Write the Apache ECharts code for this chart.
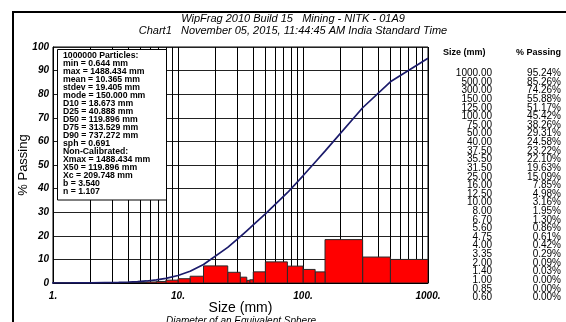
<!DOCTYPE html>
<html>
<head>
<meta charset="utf-8">
<script src="https://cdn.jsdelivr.net/npm/echarts@6/dist/echarts.min.js"></script>
<style>
  html, body { margin: 0; padding: 0; background: #fff; }
  #chart { width: 566px; height: 322px; }
</style>
</head>
<body>
<div id="chart"></div>
<script>
// sieve table (size in mm, cumulative % passing)
const sizes = [1000, 500, 300, 150, 125, 100, 75, 50, 40, 37.5, 35.5, 31.5, 25, 16, 12.5, 10, 8, 6.7, 5.6, 4.75, 4, 3.35, 2, 1.4, 1, 0.85, 0.6];
const passing = [95.24, 85.26, 74.26, 55.88, 51.17, 45.42, 38.26, 29.31, 24.58, 23.22, 22.10, 19.63, 15.09, 7.85, 4.98, 3.16, 1.95, 1.30, 0.86, 0.61, 0.42, 0.29, 0.09, 0.03, 0.00, 0.00, 0.00];

// histogram bins (% retained between sieves)
const binLow = [500, 300, 150, 125, 100, 75, 50, 40, 37.5, 35.5, 31.5, 25, 16, 12.5, 10, 8, 6.7, 5.6, 4.75, 4, 3.35, 2, 1.4, 1];
const binHigh = [1000, 500, 300, 150, 125, 100, 75, 50, 40, 37.5, 35.5, 31.5, 25, 16, 12.5, 10, 8, 6.7, 5.6, 4.75, 4, 3.35, 2, 1.4];
const retained = [9.98, 11.00, 18.38, 4.71, 5.75, 7.16, 8.95, 4.73, 1.36, 1.12, 2.47, 4.54, 7.24, 2.87, 1.82, 1.21, 0.65, 0.44, 0.25, 0.19, 0.13, 0.20, 0.06, 0.03];

// log grid lines between decades
const minorGrid = [2, 3, 4, 5, 6, 7, 8, 9, 20, 30, 40, 50, 60, 70, 80, 90, 200, 300, 400, 500, 600, 700, 800, 900];

const statLines = [
  '1000000 Particles:',
  'min = 0.644 mm',
  'max = 1488.434 mm',
  'mean = 10.365 mm',
  'stdev = 19.405 mm',
  'mode = 150.000 mm',
  'D10 = 18.673 mm',
  'D25 = 40.888 mm',
  'D50 = 119.896 mm',
  'D75 = 313.529 mm',
  'D90 = 737.272 mm',
  'sph = 0.691',
  'Non-Calibrated:',
  'Xmax = 1488.434 mm',
  'X50 = 119.896 mm',
  'Xc = 209.748 mm',
  'b = 3.540',
  'n = 1.107'
];

const titleLines = [
  'WipFrag 2010 Build 15   Mining - NITK - 01A9',
  'Chart1   November 05, 2015, 11:44:45 AM India Standard Time'
];

const FONT = '"Liberation Sans", Arial, sans-serif';

const chart = echarts.init(document.getElementById('chart'), null, { renderer: 'canvas' });

const option = {
  animation: false,
  backgroundColor: '#fff',
  textStyle: { fontFamily: FONT },
  grid: {
    left: 53, top: 47, width: 375, height: 236,
    show: true, borderColor: '#000', borderWidth: 1
  },
  xAxis: {
    type: 'log',
    logBase: 10,
    min: 1,
    max: 1000,
    axisLine: { show: true, lineStyle: { color: '#000', width: 1 } },
    axisTick: { show: false },
    axisLabel: {
      formatter: v => Math.round(v) + '.',
      fontStyle: 'italic', fontWeight: 'bold', fontSize: 10,
      color: '#000', margin: 8, fontFamily: FONT
    },
    splitLine: { show: true, lineStyle: { color: '#000', width: 1 } },
    name: 'Size (mm)',
    nameLocation: 'middle',
    nameMoveOverlap: false,
    nameGap: 18,
    nameTextStyle: { fontSize: 14, color: '#000', fontFamily: FONT }
  },
  yAxis: {
    type: 'value',
    min: 0,
    max: 100,
    interval: 10,
    axisLine: { show: true, lineStyle: { color: '#000', width: 1 } },
    axisTick: { show: false },
    axisLabel: {
      fontStyle: 'italic', fontWeight: 'bold', fontSize: 10,
      color: '#000', margin: 4, fontFamily: FONT
    },
    splitLine: { show: true, lineStyle: { color: '#222', width: 1 } },
    name: '% Passing',
    nameLocation: 'middle',
    nameMoveOverlap: false,
    nameRotate: 90,
    nameGap: 23,
    nameTextStyle: { fontSize: 13, color: '#000', fontFamily: FONT }
  },
  series: [
    {
      type: 'custom',
      clip: true,
      z: 2,
      encode: { x: [0, 1], y: 2 },
      data: binLow.map((lo, i) => [lo, binHigh[i], retained[i]]),
      renderItem: function (params, api) {
        const p0 = api.coord([api.value(0), api.value(2)]);
        const p1 = api.coord([api.value(1), 0]);
        return {
          type: 'rect',
          shape: { x: p0[0], y: p0[1], width: p1[0] - p0[0], height: p1[1] - p0[1] },
          style: { fill: '#ff0000', stroke: '#2a2a2a', lineWidth: 1 }
        };
      }
    },
    {
      type: 'line',
      z: 3,
      clip: true,
      showSymbol: false,
      symbol: 'none',
      smooth: false,
      lineStyle: { color: '#1b1b6b', width: 1.7 },
      data: sizes.map((s, i) => [s, passing[i]]),
      markLine: {
        silent: true,
        z: 1,
        symbol: 'none',
        animation: false,
        label: { show: false },
        lineStyle: { color: '#000', width: 1, type: 'solid' },
        data: minorGrid.map(v => ({ xAxis: v }))
      }
    }
  ],
  graphic: [
    {
      type: 'rect', z: 100,
      shape: { x: 13, y: 12, width: 620, height: 420 },
      style: { fill: null, stroke: '#000', lineWidth: 2 }
    },
    {
      type: 'text', z: 100, x: 293, y: 19,
      style: { text: titleLines[0], font: 'italic 11px ' + FONT, fill: '#000', textAlign: 'center', textVerticalAlign: 'middle' }
    },
    {
      type: 'text', z: 100, x: 293, y: 31,
      style: { text: titleLines[1], font: 'italic 11px ' + FONT, fill: '#000', textAlign: 'center', textVerticalAlign: 'middle' }
    },
    {
      type: 'rect', z: 100,
      shape: { x: 57.5, y: 49.5, width: 109, height: 150.5 },
      style: { fill: '#fff', stroke: '#000', lineWidth: 1 }
    },
    {
      type: 'text', z: 101, x: 63, y: 51.7,
      style: { text: statLines.join('\n'), font: 'bold 8.7px ' + FONT, lineHeight: 8, fill: '#000', textAlign: 'left', textVerticalAlign: 'top' }
    },
    {
      type: 'text', z: 100, x: 241, y: 321,
      style: { text: 'Diameter of an Equivalent Sphere', font: 'italic 10px ' + FONT, fill: '#000', textAlign: 'center', textVerticalAlign: 'middle' }
    },
    {
      type: 'text', z: 100, x: 443, y: 53,
      style: { text: 'Size (mm)', font: 'bold 9px ' + FONT, fill: '#000', textAlign: 'left', textVerticalAlign: 'middle' }
    },
    {
      type: 'text', z: 100, x: 561, y: 53,
      style: { text: '% Passing', font: 'bold 9px ' + FONT, fill: '#000', textAlign: 'right', textVerticalAlign: 'middle' }
    },
    {
      type: 'text', z: 100, x: 492, y: 69,
      style: { text: sizes.map(s => s.toFixed(2)).join('\n'), font: '10px ' + FONT, lineHeight: 8.62, fill: '#000', textAlign: 'right', textVerticalAlign: 'top' }
    },
    {
      type: 'text', z: 100, x: 561, y: 69,
      style: { text: passing.map(p => p.toFixed(2) + '%').join('\n'), font: '10px ' + FONT, lineHeight: 8.62, fill: '#000', textAlign: 'right', textVerticalAlign: 'top' }
    }
  ]
};

chart.setOption(option);
</script>
</body>
</html>
